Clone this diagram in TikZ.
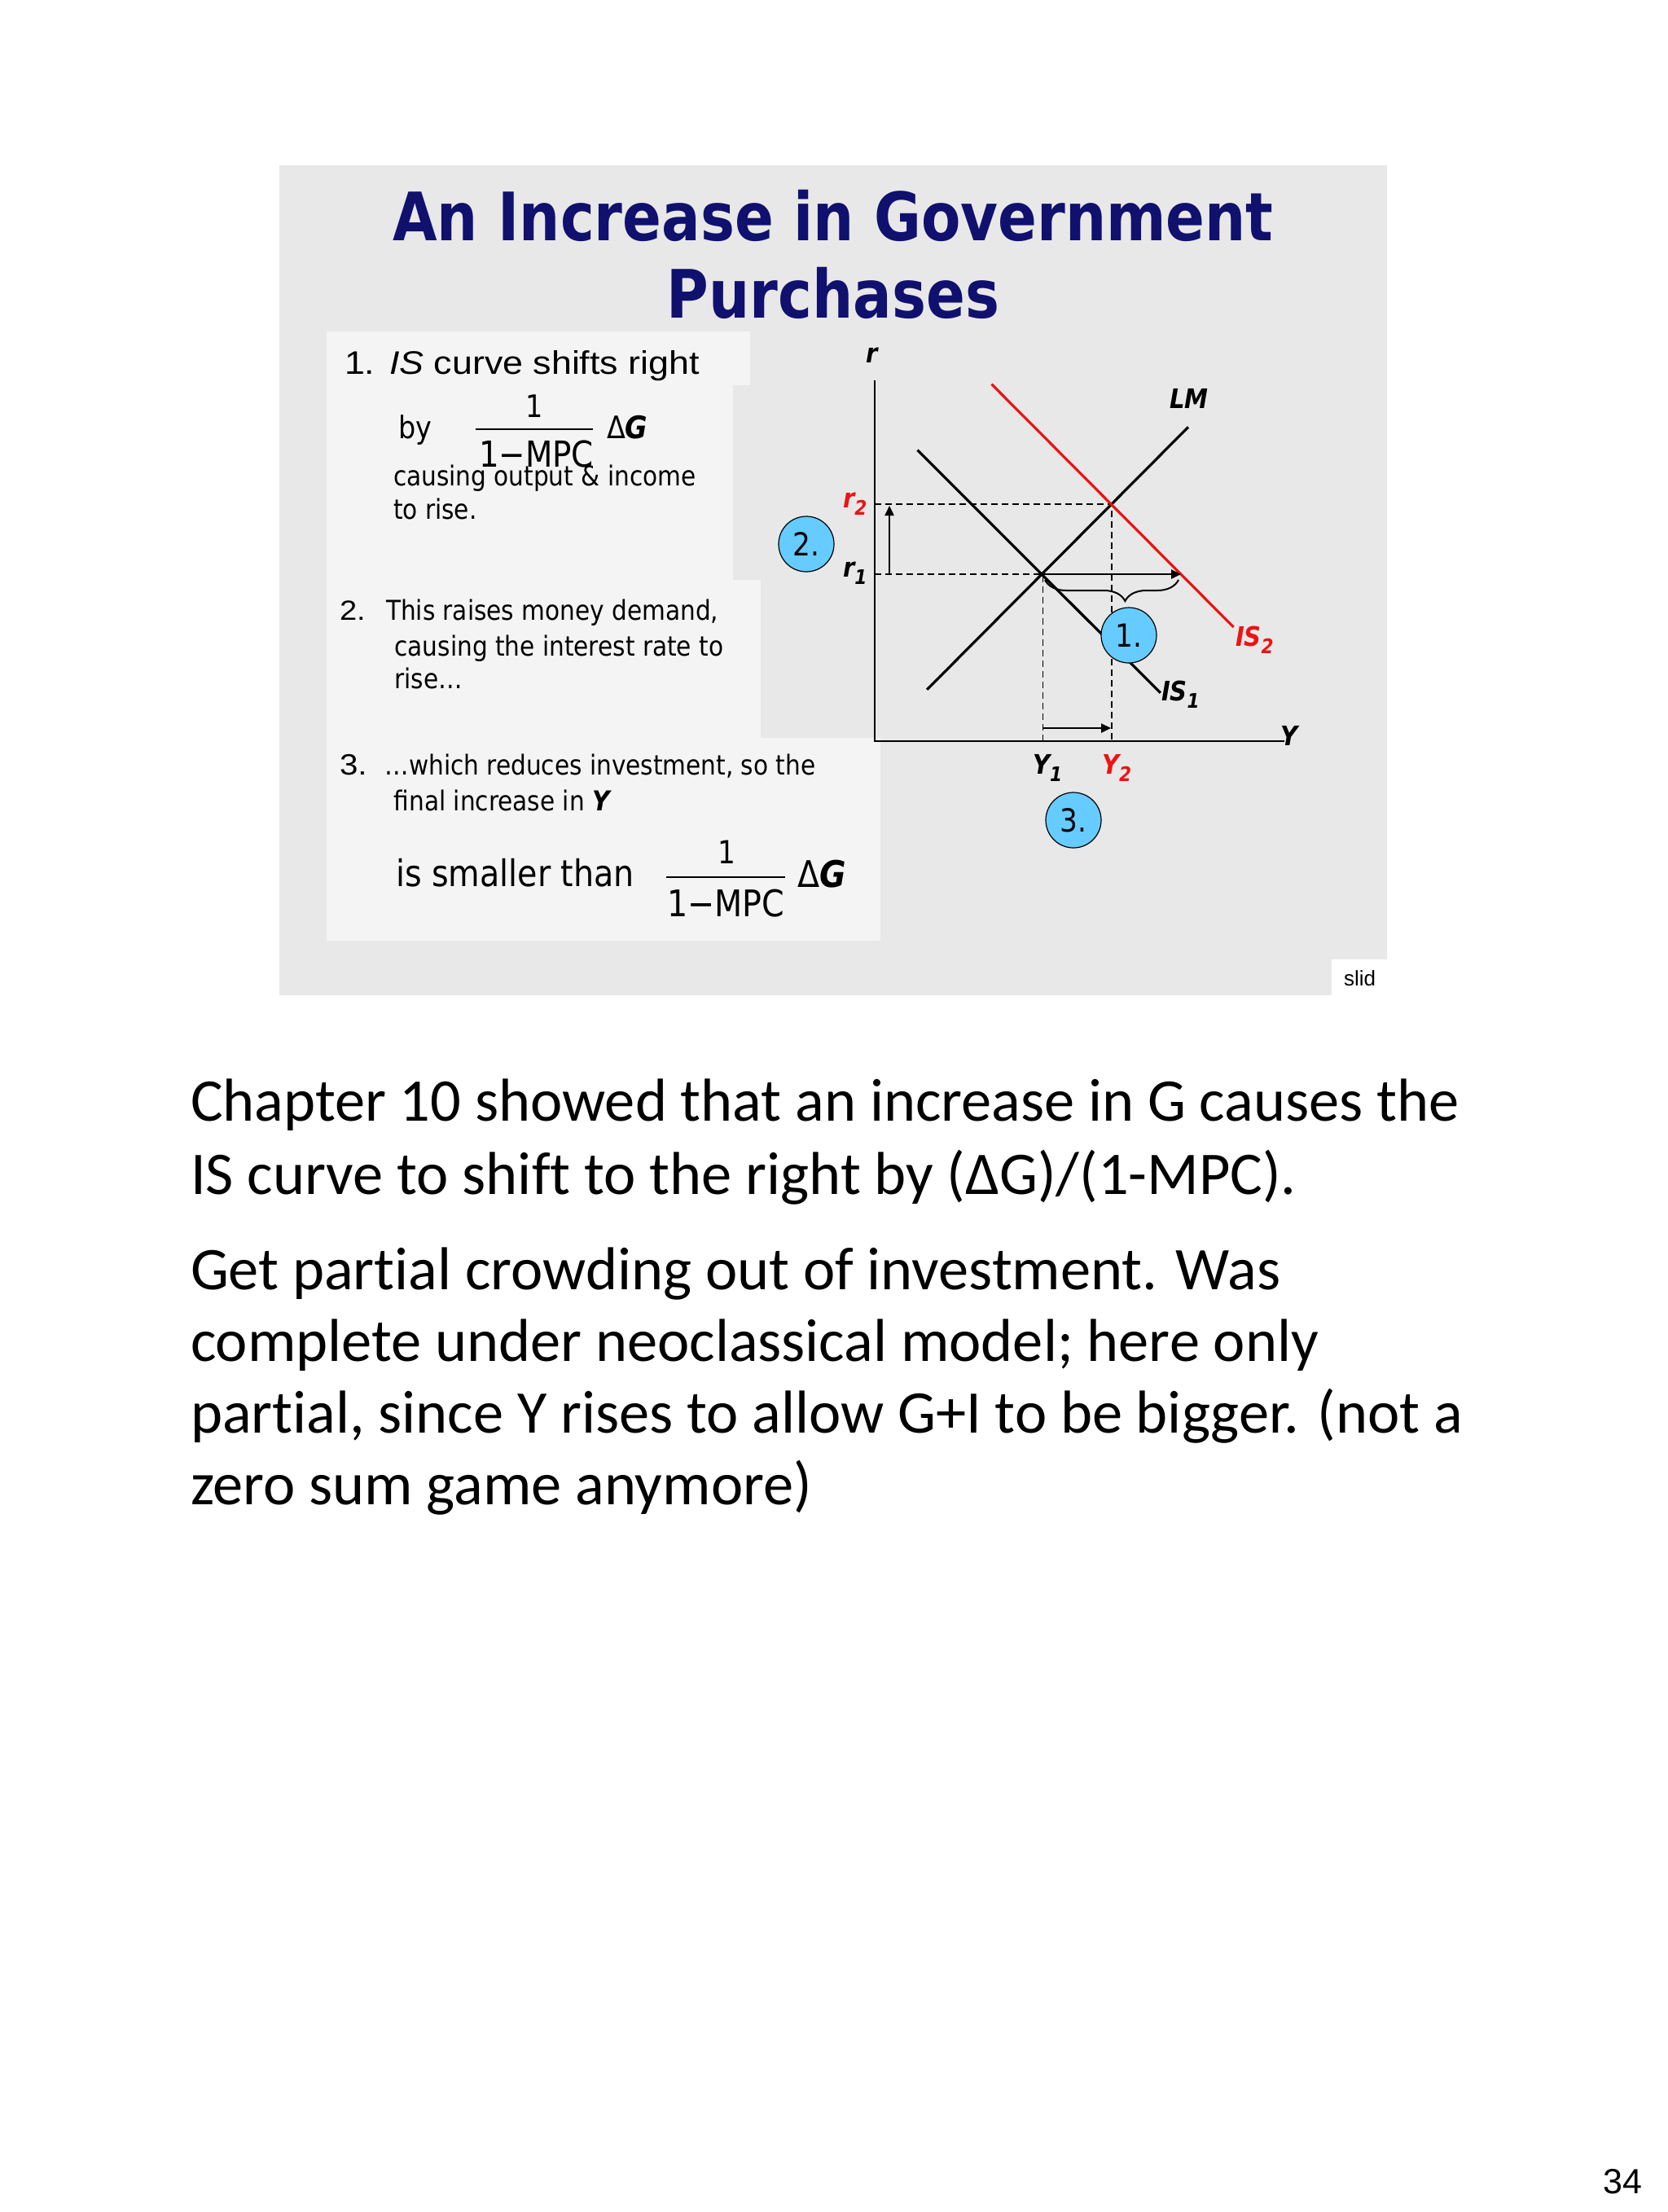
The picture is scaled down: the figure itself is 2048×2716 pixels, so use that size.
\documentclass[tikz,border=0pt]{standalone}
\usepackage{fontspec}
\setmainfont{DejaVu Sans}[FakeStretch=0.88]
\newfontfamily\tah{DejaVu Sans}[FakeStretch=0.88]
\newfontfamily\ttlfont{DejaVu Sans}[FakeStretch=0.86]
\newfontfamily\ari{Liberation Sans}[FakeStretch=1.12]
\newfontfamily\arn{Liberation Sans}
\newfontfamily\calib{Carlito}[Ligatures=NoCommon]
\usetikzlibrary{arrows.meta,decorations.pathreplacing}
\newcommand\fsz[1]{\fontsize{#1}{#1}\selectfont}
\newcommand\lbl[2]{{\bfseries\itshape #1\raisebox{-0.3em}{\fsz{12.3}#2}}}
\definecolor{slidebg}{RGB}{232,232,232}
\definecolor{boxbg}{RGB}{244,244,244}
\definecolor{titlenavy}{RGB}{16,16,110}
\definecolor{bubblecol}{RGB}{102,204,255}
\definecolor{isred}{RGB}{235,20,20}
\tikzset{
  txt/.style={anchor=base west, inner sep=0pt, outer sep=0pt},
  body/.style={txt, font=\tah\fsz{16.8}},
  glbl/.style={txt, font=\tah\fsz{16.5}},
  curve/.style={line width=1.6pt},
  axisline/.style={line width=1.1pt},
  guide/.style={dashed, line width=0.7pt, dash pattern=on 4pt off 2.5pt},
  arr/.style={line width=1.2pt, -{Triangle[length=6pt,width=5.5pt]}},
  bubble/.style={circle, draw=black, line width=0.6pt, fill=bubblecol, minimum size=34pt, inner sep=0pt, font=\tah\fsz{19.5}},
  note/.style={txt, font=\calib\fsz{37.2}}
}
\begin{document}
\begin{tikzpicture}[x=0.5pt,y=-0.5pt]
\useasboundingbox (0,0) rectangle (2048,2716);
\fill[white] (0,0) rectangle (2048,2716);
% slide
\fill[slidebg] (343,203) rectangle (1703,1222);
\fill[boxbg] (401,407) rectangle (921,473);
\fill[boxbg] (401,473) rectangle (900,712);
\fill[boxbg] (401,712) rectangle (934,906);
\fill[boxbg] (401,906) rectangle (1081,1155);
\fill[white] (1635,1178) rectangle (1703,1222);
\node[txt, font=\arn\fsz{13}] (slid) at (1650,1210) {slid};
% title
\node[anchor=base, inner sep=0pt, text=titlenavy, font=\ttlfont\bfseries\fsz{41}] (t1) at (1023,295) {An Increase in Government};
\node[anchor=base, inner sep=0pt, text=titlenavy, font=\ttlfont\bfseries\fsz{41}] (t2) at (1023,390) {Purchases};
% item 1
\node[txt, font=\ari\fsz{20}] (n1) at (423,459.5) {1.};
\node[txt, font=\ari\fsz{20}] (h1) at (478,459.5) {\itshape IS\upshape{} curve shifts right};
\node[txt, font=\tah\fsz{19}] (by) at (489,538) {by};
\node[anchor=base, inner sep=0pt, font=\tah\fsz{19}] (f1n) at (656,512) {1};
\coordinate (f1l) at (584,527);
\coordinate (f1r) at (728,527);
\draw[line width=1pt] (f1l) -- (f1r);
\node[txt, font=\tah\fsz{22}] (f1d) at (588,573) {1−MPC};
\node[txt, font=\tah\fsz{19}] (f1g) at (745,538) {Δ\textbf{\itshape G}};
\node[body] (c1a) at (483,596.7) {causing output \& income};
\node[body] (c1b) at (483,637) {to rise.};
% item 2
\node[txt, font=\ari\fsz{17}] (n2) at (417,761.7) {2.};
\node[body] (c2a) at (474,761.7) {This raises money demand,};
\node[body] (c2b) at (484.6,805) {causing the interest rate to};
\node[body] (c2c) at (484.6,845) {rise…};
% item 3
\node[txt, font=\ari\fsz{18}] (n3) at (417,951.7) {3.};
\node[body] (c3a) at (472.6,951.7) {…which reduces investment, so the};
\node[body] (c3b) at (483.75,995) {final increase in \textbf{\itshape Y}};
\node[txt, font=\tah\fsz{22.5}] (c3c) at (486,1088.3) {is smaller than};
\node[anchor=base, inner sep=0pt, font=\tah\fsz{19.5}] (f3n) at (892,1060) {1};
\coordinate (f3l) at (818,1077.3);
\coordinate (f3r) at (964,1077.3);
\draw[line width=1pt] (f3l) -- (f3r);
\node[txt, font=\tah\fsz{22.5}] (f3d) at (819,1125) {1−MPC};
\node[txt, font=\tah\fsz{22.5}] (f3g) at (979,1089) {Δ\textbf{\itshape G}};
% graph coordinates
\coordinate (O) at (1074,910);
\coordinate (Ytop) at (1074,467);
\coordinate (Xend) at (1577,910);
\coordinate (is1a) at (1126.5,552.7);
\coordinate (is1b) at (1424.8,850.7);
\coordinate (lma) at (1138.2,846.7);
\coordinate (lmb) at (1459,524.3);
\coordinate (is2a) at (1217.5,471.7);
\coordinate (is2b) at (1514.6,770);
\coordinate (E1) at (1280.4,705);
\coordinate (E2) at (1365,619);
\coordinate (va1) at (1092,705);
\coordinate (va2) at (1092,621);
\coordinate (ha2) at (1450,705);
\coordinate (ba1) at (1280.4,894);
\coordinate (ba2) at (1364,894);
\coordinate (br1) at (1283,712);
\coordinate (br2) at (1447,712);
% guides
\draw[guide] (Ytop|-E2) -- (E2) -- (E2|-O);
\draw[guide] (Ytop|-E1) -- (E1) -- (E1|-O);
% axes
\draw[axisline] (Ytop) -- (O) -- (Xend);
% curves
\draw[curve] (is1a) -- (is1b);
\draw[curve] (lma) -- (lmb);
\draw[curve, isred] (is2a) -- (is2b);
% arrows
\draw[arr] (va1) -- (va2);
\draw[arr] (E1) -- (ha2);
\draw[arr] (ba1) -- (ba2);
\draw[line width=1pt, decorate, decoration={brace, mirror, amplitude=13pt, aspect=0.6}] (br1) -- (br2);
% labels
\node[glbl] (lr) at (1063,445) {\lbl{r}{}};
\node[glbl] (lLM) at (1436,501.7) {\lbl{LM}{}};
\node[glbl, text=isred] (lr2) at (1035,623) {\lbl{r}{2}};
\node[glbl] (lr1) at (1035,708) {\lbl{r}{1}};
\node[glbl] (lis1) at (1426,860) {\lbl{IS}{1}};
\node[glbl, text=isred] (lis2) at (1517,793) {\lbl{IS}{2}};
\node[glbl] (lY) at (1572,915) {\lbl{Y}{}};
\node[glbl] (lY1) at (1268,950) {\lbl{Y}{1}};
\node[glbl, text=isred] (lY2) at (1353,950) {\lbl{Y}{2}};
% bubbles
\node[bubble] (b1) at (1386,780) {1.};
\node[bubble] (b2) at (990,668) {2.};
\node[bubble] (b3) at (1318,1007) {3.};
% notes
\node[note] (l1) at (234,1376) {Chapter 10 showed that an increase in G causes the};
\node[note] (l2) at (234,1466) {IS curve to shift to the right by (ΔG)/(1-MPC).};
\node[note] (l3) at (234,1583) {Get partial crowding out of investment. Was};
\node[note] (l4) at (234,1671) {complete under neoclassical model; here only};
\node[note] (l5) at (234,1759) {partial, since Y rises to allow G+I to be bigger. (not a};
\node[note] (l6) at (234,1847) {zero sum game anymore)};
\node[anchor=base east, inner sep=0pt, font=\arn\fsz{21.5}] (pg) at (2017,2693) {34};
\end{tikzpicture}
\end{document}
